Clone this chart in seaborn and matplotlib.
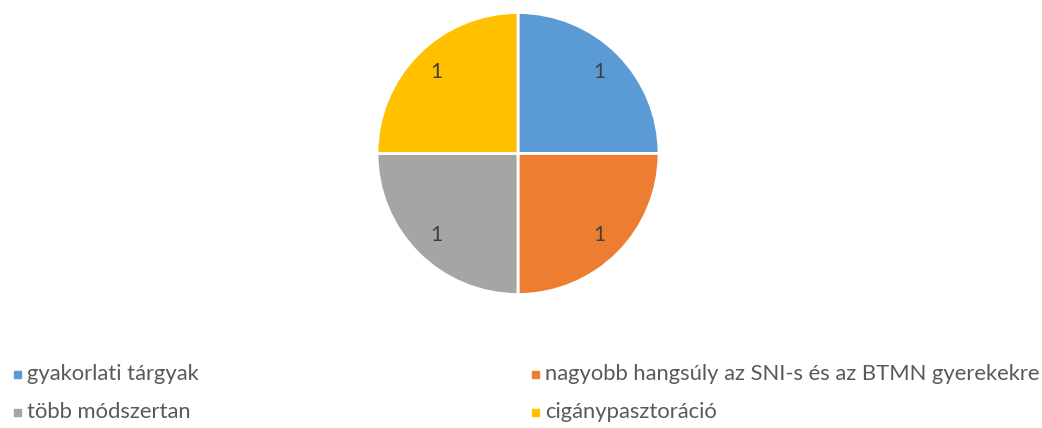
import matplotlib.pyplot as plt
import seaborn as sns

categories = ['gyakorlati tárgyak', 'nagyobb hangsúly az SNI-s és az BTMN gyerekekre',
              'több módszertan', 'cigánypasztoráció']
values = [1, 1, 1, 1]
colors = ['#5B9BD5', '#ED7D31', '#A5A5A5', '#FFC000']

sns.set_theme(style='white')
plt.rcParams['font.family'] = ['Lato', 'DejaVu Sans']

W, H = 1042, 428
fig = plt.figure(figsize=(W / 100, H / 100), dpi=100)

# pie placed in pixel coords: centre (518, 153), radius 141
cx, cy, r = 518, 153.5, 141
ax = fig.add_axes([(cx - r) / W, (H - cy - r) / H, 2 * r / W, 2 * r / H])
wedges, texts = ax.pie(values, colors=colors, startangle=90, counterclock=False,
                       labels=[str(v) for v in values], labeldistance=0.82,
                       wedgeprops=dict(edgecolor='white', linewidth=2),
                       textprops=dict(color='#404040', fontsize=15))
for t in texts:
    t.set_ha('center')
    t.set_va('center')
ax.set_xlim(-1, 1)
ax.set_ylim(-1, 1)
ax.set_aspect('equal')
ax.axis('off')

# legend in two columns at bottom
pos = [(17, 374), (535, 374), (17, 412), (535, 412)]
for (x, y), lab, c in zip(pos, categories, colors):
    fig.patches.append(plt.Rectangle(((x - 3.5) / W, (H - y - 3.5) / H), 7 / W, 7 / H,
                                     transform=fig.transFigure, color=c))
    fig.text((x + 10) / W, (H - y) / H, lab, fontsize=15.8, color='#595959',
             va='center', ha='left')

fig.savefig('out.png', dpi=100, facecolor='white')
